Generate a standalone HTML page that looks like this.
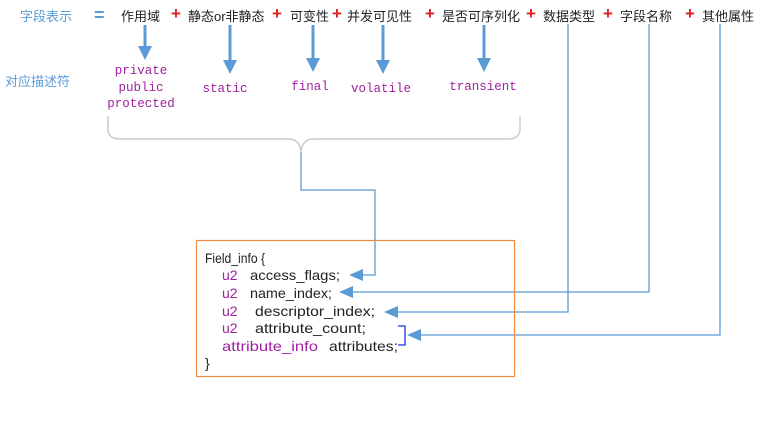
<!DOCTYPE html>
<html><head><meta charset="utf-8"><style>
body{margin:0;background:#fff;width:769px;height:420px;overflow:hidden}
svg text{font-family:"Liberation Sans","Noto Sans CJK SC",sans-serif}
.m{font-family:"Liberation Mono",monospace;fill:#a020a0;font-size:12.5px}
</style></head><body>
<svg width="769" height="420" xmlns="http://www.w3.org/2000/svg">
<g font-size="13" fill="#222">
<text x="20" y="21" fill="#5b9bd5">字段表示</text>
<text x="94" y="21" fill="#5b9bd5" font-size="18" font-weight="bold">=</text>
<text x="121" y="21">作用域</text>
<text x="188" y="21">静态or非静态</text>
<text x="290" y="21">可变性</text>
<text x="347" y="21">并发可见性</text>
<text x="442" y="21">是否可序列化</text>
<text x="543" y="21">数据类型</text>
<text x="620" y="21">字段名称</text>
<text x="702" y="21">其他属性</text>
<text x="5" y="86" fill="#5b9bd5">对应描述符</text>
</g>
<g fill="#e02020" font-size="17" font-weight="bold">
<text x="171" y="19">+</text><text x="272" y="19">+</text><text x="332" y="19">+</text><text x="425" y="19">+</text><text x="526" y="19">+</text><text x="603" y="19">+</text><text x="685" y="19">+</text>
</g>
<g stroke="#5b9bd5" stroke-width="3" fill="#5b9bd5">
<line x1="145" y1="25" x2="145" y2="46"/><path d="M138,46 L152,46 L145,60z" stroke="none"/>
<line x1="230" y1="25" x2="230" y2="60"/><path d="M223,60 L237,60 L230,74z" stroke="none"/>
<line x1="313" y1="25" x2="313" y2="58"/><path d="M306,58 L320,58 L313,72z" stroke="none"/>
<line x1="383" y1="25" x2="383" y2="60"/><path d="M376,60 L390,60 L383,74z" stroke="none"/>
<line x1="484" y1="25" x2="484" y2="58"/><path d="M477,58 L491,58 L484,72z" stroke="none"/>
</g>
<g text-anchor="middle">
<text class="m" x="141" y="74">private</text>
<text class="m" x="141" y="91">public</text>
<text class="m" x="141" y="107">protected</text>
<text class="m" x="225" y="92">static</text>
<text class="m" x="310" y="90">final</text>
<text class="m" x="381" y="92">volatile</text>
<text class="m" x="483" y="90">transient</text>
</g>
<path d="M108,116 V129 Q108,139 120,139 H288 Q300,139 301,152 Q302,139 314,139 H508 Q520,139 520,129 V116" fill="none" stroke="#ccc" stroke-width="1.5"/>
<g fill="none" stroke="#5b9bd5" stroke-width="1.3">
<path d="M301,152 V190 H375 V275 H362"/>
<path d="M649,24 V292 H352"/>
<path d="M568,24 V312 H397"/>
<path d="M720,24 V335 H420"/>
</g>
<g fill="#5b9bd5">
<path d="M349,275 L363,269 L363,281z"/>
<path d="M339,292 L353,286 L353,298z"/>
<path d="M384,312 L398,306 L398,318z"/>
<path d="M407,335 L421,329 L421,341z"/>
</g>
<path d="M398,326 H405 V345 H398" fill="none" stroke="#2030e0" stroke-width="1.3"/>
<rect x="196.5" y="240.5" width="318" height="136" fill="none" stroke="#f08a40" stroke-width="1.2"/>
<g font-size="14" fill="#222">
<text x="205" y="263" textLength="60" lengthAdjust="spacingAndGlyphs">Field_info {</text>
<text x="222" y="280" fill="#a020a0">u2</text><text x="250" y="280" textLength="90" lengthAdjust="spacingAndGlyphs">access_flags;</text>
<text x="222" y="298" fill="#a020a0">u2</text><text x="250" y="298" textLength="82" lengthAdjust="spacingAndGlyphs">name_index;</text>
<text x="222" y="316" fill="#a020a0">u2</text><text x="255" y="316" textLength="120" lengthAdjust="spacingAndGlyphs">descriptor_index;</text>
<text x="222" y="333" fill="#a020a0">u2</text><text x="255" y="333" textLength="111" lengthAdjust="spacingAndGlyphs">attribute_count;</text>
<text x="222" y="351" fill="#a020a0" textLength="96" lengthAdjust="spacingAndGlyphs">attribute_info</text><text x="329" y="351" textLength="69" lengthAdjust="spacingAndGlyphs">attributes;</text>
<text x="205" y="368">}</text>
</g>
</svg>
</body></html>
